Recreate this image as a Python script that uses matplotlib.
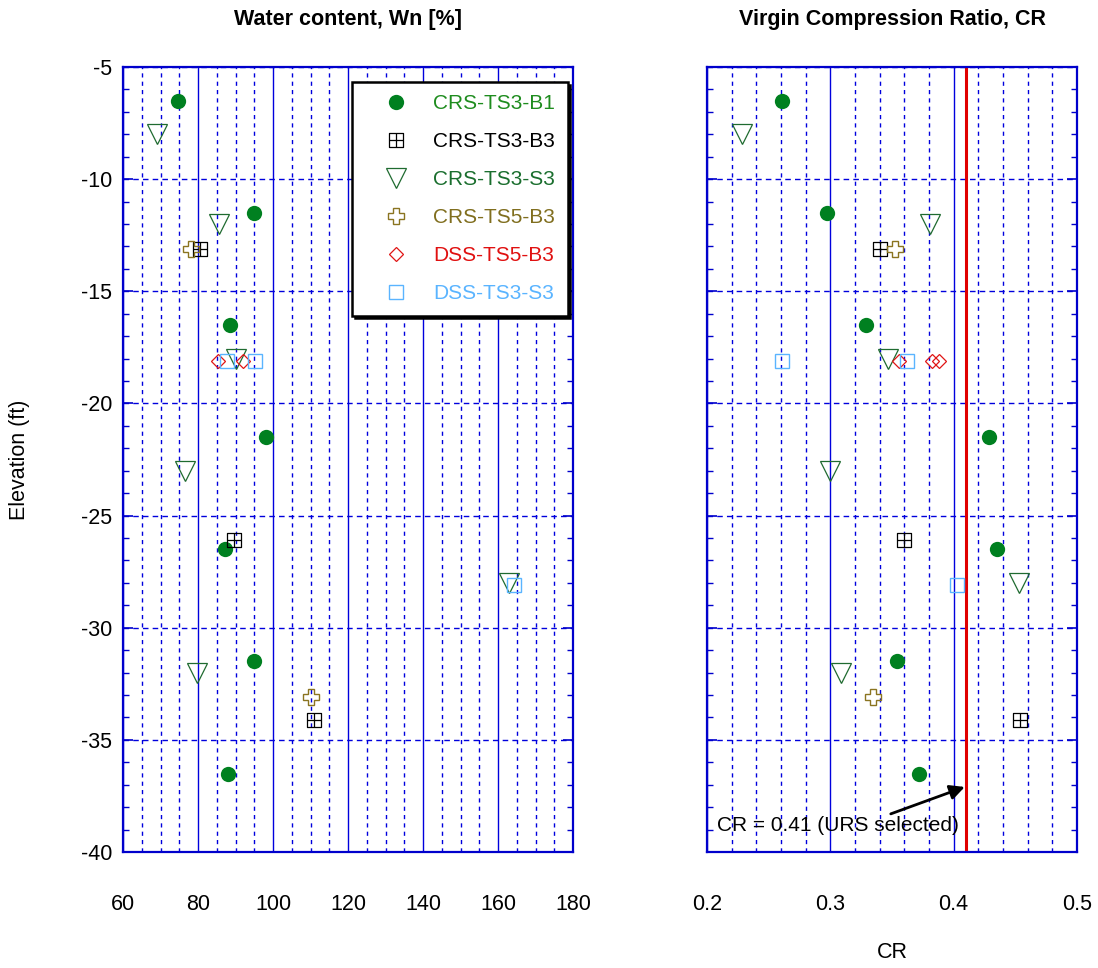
import matplotlib
matplotlib.use("Agg")
import matplotlib.pyplot as plt
from matplotlib.path import Path
from matplotlib.ticker import MultipleLocator, FixedLocator

plt.rcParams['font.family'] = ['Liberation Sans', 'DejaVu Sans']
plt.rcParams['axes.unicode_minus'] = False

# ---------------- data ----------------
series_names = ["CRS-TS3-B1", "CRS-TS3-B3", "CRS-TS3-S3", "CRS-TS5-B3", "DSS-TS5-B3", "DSS-TS3-S3"]

b1_elev = [-6.5, -11.5, -16.5, -21.5, -26.5, -31.5, -36.5]
b1_wn = [74.7, 95.0, 88.4, 98.0, 87.2, 94.9, 88.0]
b1_cr = [0.261, 0.297, 0.329, 0.4285, 0.435, 0.354, 0.372]

b3_elev = [-13.1, -26.1, -34.1]
b3_wn = [80.4, 89.6, 110.9]
b3_cr = [0.340, 0.360, 0.454]

s3_elev = [-8.0, -12.0, -18.0, -23.0, -28.0, -32.0]
s3_wn = [69.1, 85.7, 90.0, 76.6, 162.9, 79.7]
s3_cr = [0.228, 0.381, 0.347, 0.300, 0.453, 0.309]

ts5_elev = [-13.1, -33.1]
ts5_wn = [78.1, 110.1]
ts5_cr = [0.3525, 0.3346]

dss5_elev_wn = [-18.1, -18.1]
dss5_wn = [85.3, 92.0]
dss5_elev_cr = [-18.1, -18.1, -18.1]
dss5_cr = [0.3555, 0.3827, 0.3884]

dss3_elev = [-18.1, -18.1, -28.1]
dss3_wn = [87.8, 95.2, 164.3]
dss3_cr = [0.261, 0.362, 0.4027]

cr_selected = 0.41
cr_label = "CR = 0.41 (URS selected)"

wn_ticks = [60, 80, 100, 120, 140, 160, 180]
cr_ticks = [0.2, 0.3, 0.4, 0.5]
elev_ticks = [-5, -10, -15, -20, -25, -30, -35, -40]

# ---------------- styles ----------------
GRID = '#0000DD'
boxplus = Path([(-1, -1), (1, -1), (1, 1), (-1, 1), (-1, -1), (0, -1), (0, 1), (-1, 0), (1, 0)],
               [Path.MOVETO, Path.LINETO, Path.LINETO, Path.LINETO, Path.CLOSEPOLY,
                Path.MOVETO, Path.LINETO, Path.MOVETO, Path.LINETO])

styles = [
    dict(marker='o', ms=11, mfc='#008020', mec='#008020', mew=0, color='#1E8C1E'),
    dict(marker=boxplus, ms=10.5, mfc='none', mec='black', mew=0.9, color='black'),
    dict(marker='v', ms=14.5, mfc='none', mec='#1F6B30', mew=0.9, color='#1A6E2E'),
    dict(marker='P', ms=11, mfc='none', mec='#8A7420', mew=1.0, color='#806E1E'),
    dict(marker='D', ms=7.5, mfc='none', mec='#E01515', mew=0.9, color='#E01010'),
    dict(marker='s', ms=10, mfc='none', mec='#5AB4FF', mew=1.0, color='#5AB4FF'),
]

W, H = 1098, 968
fig = plt.figure(figsize=(W / 100, H / 100), dpi=100)
axL = fig.add_axes([123 / W, 1 - 852 / H, 450 / W, 785 / H])
axR = fig.add_axes([707 / W, 1 - 852 / H, 370 / W, 785 / H])


def style_axes(ax, major, minor):
    ax.set_ylim(-40, -5)
    ax.yaxis.set_major_locator(FixedLocator(elev_ticks))
    ax.yaxis.set_minor_locator(MultipleLocator(1))
    ax.xaxis.set_major_locator(MultipleLocator(major))
    ax.xaxis.set_minor_locator(MultipleLocator(minor))
    for s in ax.spines.values():
        s.set_color('#0000CC')
        s.set_linewidth(1.6)
    ax.tick_params(axis='y', which='both', direction='in', left=True, right=True, color='#0000CC')
    ax.tick_params(axis='y', which='major', length=7, width=1.2, labelsize=15.5, pad=8)
    ax.tick_params(axis='y', which='minor', length=4, width=1.0)
    ax.tick_params(axis='x', which='both', length=0, labelsize=15.5, pad=30)
    ax.grid(which='major', axis='x', color=GRID, lw=1.0, ls='-')
    ax.grid(which='minor', axis='x', color=GRID, lw=1.0, ls=(0, (3, 3)))
    ax.grid(which='major', axis='y', color=GRID, lw=1.0, ls=(0, (4, 3)))
    ax.set_axisbelow(True)


style_axes(axL, 20, 5)
axL.set_xlim(60, 180)
axL.set_xticks(wn_ticks)
style_axes(axR, 0.1, 0.02)
axR.set_xlim(0.2, 0.5)
axR.set_xticks(cr_ticks)
axR.set_xticklabels([f"{t:g}" for t in cr_ticks])
axR.tick_params(axis='y', which='both', labelleft=False)

left_data = [(b1_wn, b1_elev), (b3_wn, b3_elev), (s3_wn, s3_elev), (ts5_wn, ts5_elev),
             (dss5_wn, dss5_elev_wn), (dss3_wn, dss3_elev)]
right_data = [(b1_cr, b1_elev), (b3_cr, b3_elev), (s3_cr, s3_elev), (ts5_cr, ts5_elev),
              (dss5_cr, dss5_elev_cr), (dss3_cr, dss3_elev)]

handles = []
for (x, y), st, name in zip(left_data, styles, series_names):
    h, = axL.plot(x, y, ls='none', marker=st['marker'], ms=st['ms'], mfc=st['mfc'],
                  mec=st['mec'], mew=st['mew'], label=name, zorder=3)
    handles.append(h)
for (x, y), st in zip(right_data, styles):
    axR.plot(x, y, ls='none', marker=st['marker'], ms=st['ms'], mfc=st['mfc'],
             mec=st['mec'], mew=st['mew'], zorder=3)

leg = axL.legend(handles=handles, loc='upper left', bbox_to_anchor=(0.509, 0.981),
                 fontsize=15, frameon=True, fancybox=False, borderpad=0.6,
                 handlelength=3.0, handletextpad=0.3, labelspacing=0.91,
                 borderaxespad=0, shadow={'color': 'black', 'alpha': 1.0})
leg.get_frame().set_edgecolor('black')
leg.get_frame().set_linewidth(1.8)
leg.get_frame().set_facecolor('white')
leg.get_frame().set_alpha(1)
for txt, st in zip(leg.get_texts(), styles):
    txt.set_color(st['color'])
leg.set_zorder(5)

axL.set_ylabel("Elevation (ft)", fontsize=15.5)
axL.yaxis.set_label_coords(-0.207, 0.5)
axR.set_xlabel("CR", fontsize=15.5)
axR.xaxis.set_label_coords(0.5, -0.115)

fig.text(348 / W, 1 - 20 / H, "Water content, Wn [%]", ha='center', va='center',
         fontsize=15.5, fontweight='bold')
fig.text(892 / W, 1 - 20 / H, "Virgin Compression Ratio, CR", ha='center', va='center',
         fontsize=15.5, fontweight='bold')

# selected CR line and annotation
axR.axvline(cr_selected, color='#E00000', lw=2.2, zorder=2)
axR.annotate('', xy=(cr_selected - 0.001, -37.1), xytext=(0.349, -38.3),
             arrowprops=dict(arrowstyle='-|>', lw=2, color='black', mutation_scale=22,
                             shrinkA=0, shrinkB=0), zorder=4)
axR.text(0.208, -38.8, cr_label, fontsize=15, ha='left', va='center', zorder=4)

fig.savefig("out.png", dpi=100)
